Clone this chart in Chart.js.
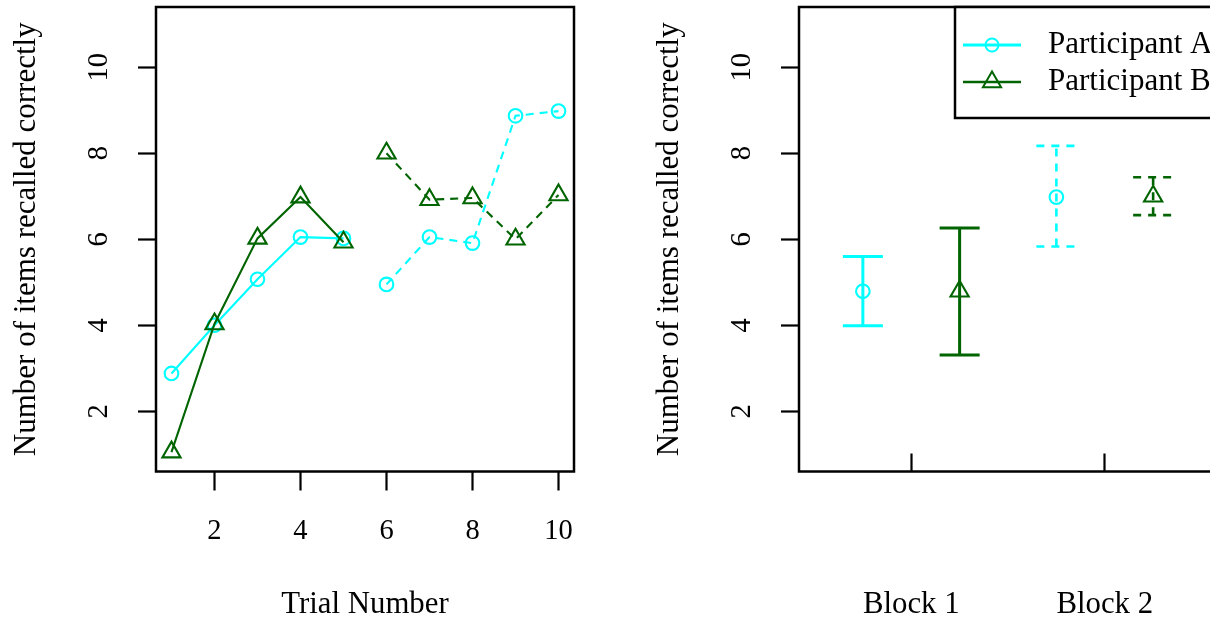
<!DOCTYPE html>
<html>
<head>
<meta charset="utf-8">
<script src="https://cdn.jsdelivr.net/npm/chart.js@4.4.0/dist/chart.umd.min.js"></script>
<style>
  html, body { margin: 0; padding: 0; background: #fff; overflow: hidden; width: 1210px; height: 621px; }
  #trialChart { position: absolute; left: 0; top: 0; }
  #blockChart { position: absolute; left: 643px; top: 0; }
</style>
</head>
<body>
<canvas id="trialChart" width="643" height="621"></canvas>
<canvas id="blockChart" width="643" height="621"></canvas>
<script>
// recall scores per trial
var trials = [1, 2, 3, 4, 5, 6, 7, 8, 9, 10];
var recallA = [2.88, 4.0, 5.07, 6.05, 6.02, 4.95, 6.05, 5.91, 8.87, 8.98];
var recallB = [1.05, 4.03, 6.02, 6.98, 5.93, 8.0, 6.92, 6.96, 6.0, 7.03];

// block summaries (mean with bar ends)
var blocks = [1, 2];
var blockLabels = ["Block 1", "Block 2"];
var meanA = [4.79, 6.98];
var lowA = [3.99, 5.83];
var highA = [5.60, 8.17];
var meanB = [4.79, 7.0];
var lowB = [3.31, 6.56];
var highB = [6.26, 7.44];

var seriesNames = ["Participant A", "Participant B"];
var trialTicks = [2, 4, 6, 8, 10];
var recallTicks = [2, 4, 6, 8, 10];

var SERIF = "'Liberation Serif', 'Times New Roman', serif";
var CYAN = "rgb(0,255,255)";
var GREEN = "rgb(0,100,0)";
var DASH = [8, 6];
var dodge = 0.25;

function pts(xs, ys) {
  return xs.map(function (x, i) { return { x: x, y: ys[i] }; });
}

// R style box round the plot region
var frame = {
  id: 'frame',
  afterDraw: function (chart) {
    var a = chart.chartArea, ctx = chart.ctx;
    ctx.save();
    ctx.strokeStyle = '#000';
    ctx.lineWidth = 2.5;
    ctx.strokeRect(a.left, a.top, a.right - a.left, a.bottom - a.top);
    ctx.restore();
  }
};

function yAxis() {
  return {
    type: 'linear', min: 0.6, max: 11.4,
    afterBuildTicks: function (s) { s.ticks = recallTicks.map(function (v) { return { value: v }; }); },
    afterFit: function (s) {
      s.width = 156;
      s.paddingTop = 0; s.paddingBottom = 0; s.paddingLeft = 0; s.paddingRight = 0;
    },
    border: { display: false },
    grid: { drawOnChartArea: false, drawTicks: true, tickLength: 18, tickWidth: 2.2, tickColor: '#000' },
    ticks: {
      autoSkip: false, minRotation: 90, maxRotation: 90, crossAlign: 'center', padding: 24,
      color: '#000', font: { family: SERIF, size: 28.5 }
    },
    title: {
      display: true, text: 'Number of items recalled correctly', color: '#000',
      font: { family: SERIF, size: 31, lineHeight: 1 }, padding: { top: 11, bottom: 0 }
    }
  };
}

function xAxis(min, max, tickVals, tickLen, pad, title, cb) {
  var ax = {
    type: 'linear', min: min, max: max,
    afterBuildTicks: function (s) { s.ticks = tickVals.map(function (v) { return { value: v }; }); },
    afterFit: function (s) {
      s.height = 149.5;
      s.paddingTop = 0; s.paddingBottom = 0; s.paddingLeft = 0; s.paddingRight = 0;
    },
    border: { display: false },
    grid: { drawOnChartArea: false, drawTicks: true, tickLength: tickLen, tickWidth: 2.2, tickColor: '#000' },
    ticks: { autoSkip: false, maxRotation: 0, padding: pad, color: '#000', font: { family: SERIF, size: tickLen < 0 ? 30.8 : 28.5 } },
    title: title ? {
      display: true, text: title, color: '#000',
      font: { family: SERIF, size: 30.8, lineHeight: 1 }, padding: { top: 0, bottom: 1 }
    } : { display: false }
  };
  if (cb) ax.ticks.callback = cb;
  return ax;
}

function lineSet(label, xs, ys, color, style, radius, dash) {
  return {
    label: label, data: pts(xs, ys), showLine: true,
    borderColor: color, borderWidth: 2.1, borderDash: dash,
    pointStyle: style, pointRadius: radius, pointBorderColor: color,
    pointBorderWidth: 2.1, pointBackgroundColor: 'rgba(0,0,0,0)'
  };
}

var baseOpts = {
  responsive: false, animation: false, events: [],
  layout: { autoPadding: false, padding: { left: 0, top: 7, right: 69, bottom: 0 } },
  plugins: { legend: { display: false }, tooltip: { enabled: false } }
};

// left panel: trial by trial
var first = trials.slice(0, 5), second = trials.slice(5);
new Chart(document.getElementById('trialChart'), {
  type: 'scatter',
  data: {
    datasets: [
      lineSet(seriesNames[1], first, recallB.slice(0, 5), GREEN, 'triangle', 10.5, []),
      lineSet(seriesNames[1], second, recallB.slice(5), GREEN, 'triangle', 10.5, DASH),
      lineSet(seriesNames[0], first, recallA.slice(0, 5), CYAN, 'circle', 6.8, []),
      lineSet(seriesNames[0], second, recallA.slice(5), CYAN, 'circle', 6.8, DASH)
    ]
  },
  options: Object.assign({}, baseOpts, {
    scales: {
      x: xAxis(0.64, 10.36, trialTicks, 19, 24, 'Trial Number'),
      y: yAxis()
    }
  }),
  plugins: [frame]
});

// bars from the low and high arrays, drawn under the mean markers
var errorBars = {
  id: 'errorBars',
  beforeDatasetsDraw: function (chart) {
    var ctx = chart.ctx, xs = chart.scales.x, ys = chart.scales.y;
    var groups = [
      { off: -dodge, low: lowA, high: highA, color: CYAN },
      { off: dodge, low: lowB, high: highB, color: GREEN }
    ];
    ctx.save();
    groups.forEach(function (g) {
      blocks.forEach(function (b, i) {
        var px = xs.getPixelForValue(b + g.off);
        var lo = ys.getPixelForValue(g.low[i]), hi = ys.getPixelForValue(g.high[i]);
        ctx.strokeStyle = g.color;
        ctx.lineWidth = i === 0 ? 3 : 2.6;
        ctx.setLineDash(i === 0 ? [] : [8, 7]);
        ctx.beginPath();
        ctx.moveTo(px, lo); ctx.lineTo(px, hi);
        ctx.moveTo(px - 20, lo); ctx.lineTo(px + 20, lo);
        ctx.moveTo(px - 20, hi); ctx.lineTo(px + 20, hi);
        ctx.stroke();
      });
    });
    ctx.restore();
  }
};

// legend box in the top right corner of the plot
var legendBox = {
  id: 'legendBox',
  afterDraw: function (chart) {
    var ctx = chart.ctx, a = chart.chartArea;
    var x0 = a.right - 262, y0 = a.top, h = 111;
    var styles = [
      { color: CYAN, shape: 'circle', width: 3 },
      { color: GREEN, shape: 'triangle', width: 2.4 }
    ];
    ctx.save();
    ctx.fillStyle = '#fff';
    ctx.fillRect(x0, y0, 400, h);
    ctx.strokeStyle = '#000';
    ctx.lineWidth = 2.5;
    ctx.strokeRect(x0, y0, 400, h);
    seriesNames.forEach(function (name, i) {
      var st = styles[i];
      var y = y0 + 38 + i * 37;
      ctx.strokeStyle = st.color;
      ctx.lineWidth = st.width;
      ctx.beginPath();
      ctx.moveTo(x0 + 8, y); ctx.lineTo(x0 + 66, y);
      ctx.stroke();
      var cx = x0 + 37;
      ctx.lineWidth = 2;
      ctx.beginPath();
      if (st.shape === 'circle') {
        ctx.arc(cx, y, 6.5, 0, Math.PI * 2);
      } else {
        var r = 10.5;
        ctx.moveTo(cx, y - r);
        ctx.lineTo(cx + r * 0.866, y + r / 2);
        ctx.lineTo(cx - r * 0.866, y + r / 2);
        ctx.closePath();
      }
      ctx.stroke();
      ctx.fillStyle = '#000';
      ctx.font = '31px ' + SERIF;
      ctx.textBaseline = 'middle';
      ctx.textAlign = 'left';
      ctx.fillText(name, x0 + 93, y);
    });
    ctx.restore();
  }
};

// right panel: block means
new Chart(document.getElementById('blockChart'), {
  type: 'scatter',
  data: {
    datasets: [
      {
        label: seriesNames[1], data: pts(blocks.map(function (b) { return b + dodge; }), meanB),
        pointStyle: 'triangle', pointRadius: 10.5, pointBorderColor: GREEN, pointBorderWidth: 2.1,
        pointBackgroundColor: 'rgba(0,0,0,0)'
      },
      {
        label: seriesNames[0], data: pts(blocks.map(function (b) { return b - dodge; }), meanA),
        pointStyle: 'circle', pointRadius: 6.8, pointBorderColor: CYAN, pointBorderWidth: 2.1,
        pointBackgroundColor: 'rgba(0,0,0,0)'
      }
    ]
  },
  options: Object.assign({}, baseOpts, {
    scales: {
      x: xAxis(0.42, 2.58, blocks, -18, 133, null, function (v) {
        return blockLabels[blocks.indexOf(v)];
      }),
      y: yAxis()
    }
  }),
  plugins: [errorBars, frame, legendBox]
});
</script>
</body>
</html>
